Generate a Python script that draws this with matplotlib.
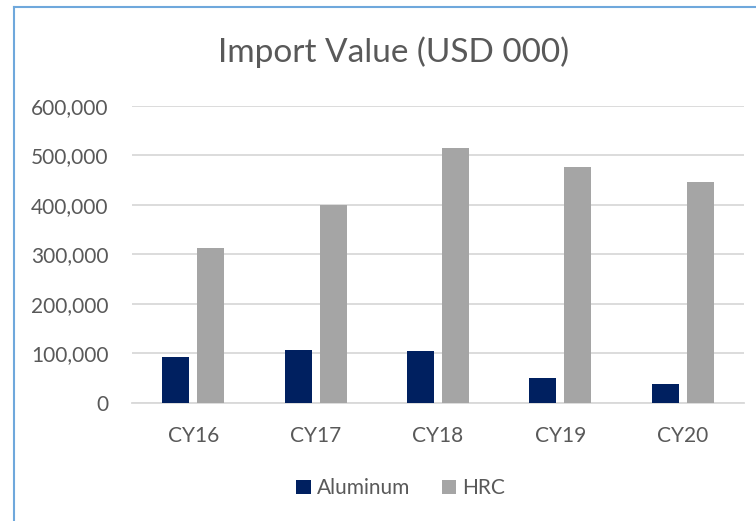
import matplotlib.pyplot as plt
import numpy as np
from matplotlib.lines import Line2D
from matplotlib.ticker import FuncFormatter

years = ["CY16", "CY17", "CY18", "CY19", "CY20"]
aluminum = [93000, 106000, 104000, 50000, 38000]
hrc = [312000, 399000, 514000, 476000, 446000]

plt.rcParams.update({
    "font.family": ["Lato", "DejaVu Sans"],
    "text.color": "#595959",
    "axes.labelcolor": "#595959",
    "xtick.color": "#595959",
    "ytick.color": "#595959",
})

fig = plt.figure(figsize=(7.56, 5.21), dpi=100)
ax = fig.add_axes([0.1746, 0.227, 0.8094, 0.570])

x = np.arange(len(years))
w = 0.22
off = 0.143
ax.bar(x - off, aluminum, w, color="#002060", label="Aluminum", zorder=3)
ax.bar(x + off, hrc, w, color="#A5A5A5", label="HRC", zorder=3)

ax.set_xlim(-0.5, len(years) - 0.5)
ax.set_ylim(0, 600000)
ax.set_yticks(np.arange(0, 600001, 100000))
ax.yaxis.set_major_formatter(FuncFormatter(lambda v, p: f"{int(v):,}"))
ax.set_xticks(x)
ax.set_xticklabels(years)
ax.tick_params(axis="y", length=0, pad=17, labelsize=15)
ax.tick_params(axis="x", length=0, pad=17, labelsize=15)
ax.grid(axis="y", color="#D9D9D9", linewidth=1.3, zorder=0)
for s in ["top", "right", "left"]:
    ax.spines[s].set_visible(False)
ax.spines["bottom"].set_color("#D9D9D9")
ax.spines["bottom"].set_linewidth(1.3)

fig.text(0.52, 0.90, "Import Value (USD 000)", ha="center", va="center",
         fontsize=24, color="#595959")

fig.legend(loc="center", bbox_to_anchor=(0.53, 0.063), ncol=2, frameon=False,
           fontsize=15, handlelength=0.7, handleheight=0.7, handletextpad=0.3,
           columnspacing=1.5)

# chart border (left and top visible)
fig.add_artist(Line2D([13.5 / 756, 13.5 / 756], [0, 1 - 6.5 / 521],
                      transform=fig.transFigure, color="#6FA8DC", linewidth=1.5))
fig.add_artist(Line2D([13.5 / 756, 1], [1 - 6.5 / 521, 1 - 6.5 / 521],
                      transform=fig.transFigure, color="#6FA8DC", linewidth=1.5))

fig.savefig("out.png", dpi=100)
